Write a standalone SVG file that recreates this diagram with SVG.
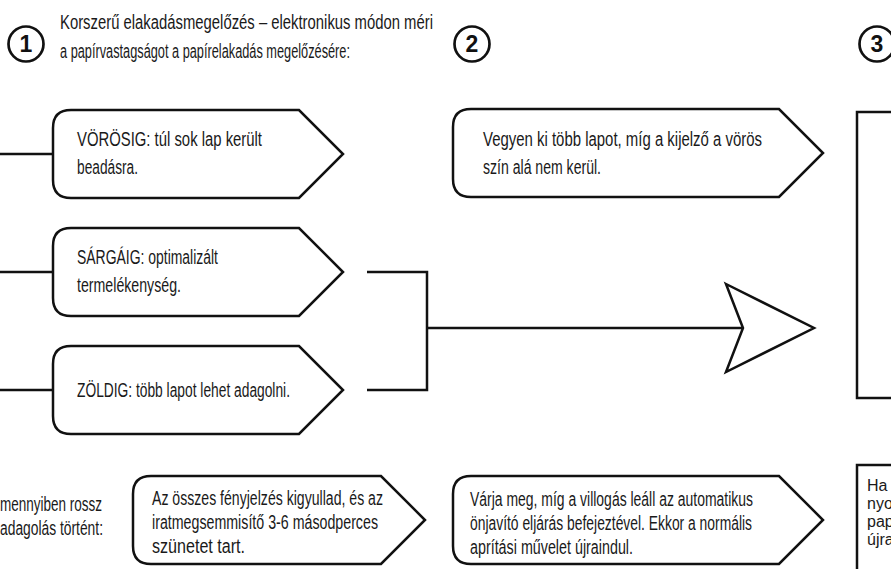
<svg xmlns="http://www.w3.org/2000/svg" width="891" height="569" viewBox="0 0 891 569">
<style>
  .t { font-family: "Liberation Sans", "DejaVu Sans", sans-serif; font-size: 20px; fill: #1a1a1a; }
  .s { font-family: "Liberation Sans", "DejaVu Sans", sans-serif; font-size: 16px; fill: #1a1a1a; }
  .num { font-family: "Liberation Sans", sans-serif; font-size: 23px; font-weight: bold; fill: #111; text-anchor: middle; }
  .node { fill: #fff; stroke: #111; stroke-width: 2.5; stroke-linejoin: miter; }
  .circ { fill: #fff; stroke: #111; stroke-width: 2.7; }
  .line { fill: none; stroke: #111; stroke-width: 2.5; }
</style>
<rect width="891" height="569" fill="#fff"/>

<g id="step1">
  <circle class="circ" cx="26" cy="44" r="17.5"/>
  <text class="num" x="26" y="52">1</text>
  <text class="t" x="60" y="29" textLength="373" lengthAdjust="spacingAndGlyphs">Korszerű elakadásmegelőzés – elektronikus módon méri</text>
  <text class="t" x="60" y="58" textLength="290" lengthAdjust="spacingAndGlyphs">a papírvastagságot a papírelakadás megelőzésére:</text>
</g>
<g id="step2">
  <circle class="circ" cx="472" cy="44" r="17.5"/>
  <text class="num" x="472" y="52">2</text>
</g>
<g id="step3">
  <circle class="circ" cx="877" cy="44" r="17.5"/>
  <text class="num" x="877" y="52">3</text>
</g>

<g id="connectors">
  <line class="line" x1="0" y1="154" x2="53" y2="154"/>
  <line class="line" x1="0" y1="272" x2="53" y2="272"/>
  <line class="line" x1="0" y1="390" x2="53" y2="390"/>
  <polyline class="line" points="367,272 427,272 427,390 367,390"/>
  <line class="line" x1="427" y1="328" x2="743" y2="328"/>
  <polygon class="node" points="726,284 814,328 726,372 743,328"/>
</g>

<g id="red">
  <path class="node" d="M71,110 H299 L343,154 L299,198 H71 Q53,198 53,180 V128 Q53,110 71,110 Z"/>
  <text class="t" x="77" y="146" textLength="185" lengthAdjust="spacingAndGlyphs">VÖRÖSIG: túl sok lap került</text>
  <text class="t" x="77" y="174" textLength="61" lengthAdjust="spacingAndGlyphs">beadásra.</text>
</g>
<g id="yellow">
  <path class="node" d="M71,228 H299 L343,272 L299,316 H71 Q53,316 53,298 V246 Q53,228 71,228 Z"/>
  <text class="t" x="77" y="264" textLength="141" lengthAdjust="spacingAndGlyphs">SÁRGÁIG: optimalizált</text>
  <text class="t" x="77" y="292" textLength="104" lengthAdjust="spacingAndGlyphs">termelékenység.</text>
</g>
<g id="green">
  <path class="node" d="M71,346 H299 L343,390 L299,434 H71 Q53,434 53,416 V364 Q53,346 71,346 Z"/>
  <text class="t" x="77" y="397" textLength="213" lengthAdjust="spacingAndGlyphs">ZÖLDIG: több lapot lehet adagolni.</text>
</g>

<g id="remove">
  <path class="node" d="M471,109 H779 L823,153 L779,197 H471 Q453,197 453,179 V127 Q453,109 471,109 Z"/>
  <text class="t" x="483" y="146" textLength="279" lengthAdjust="spacingAndGlyphs">Vegyen ki több lapot, míg a kijelző a vörös</text>
  <text class="t" x="483" y="174" textLength="118" lengthAdjust="spacingAndGlyphs">szín alá nem kerül.</text>
</g>

<g id="result">
  <rect class="node" x="857" y="112" width="50" height="286"/>
</g>

<g id="misfeed">
  <text class="t" x="0" y="511" textLength="102" lengthAdjust="spacingAndGlyphs">mennyiben rossz</text>
  <text class="t" x="0" y="535" textLength="103" lengthAdjust="spacingAndGlyphs">adagolás történt:</text>
</g>
<g id="lights">
  <path class="node" d="M151,476 H381 L425,520 L381,564 H151 Q133,564 133,546 V494 Q133,476 151,476 Z"/>
  <text class="t" x="152" y="505" textLength="231" lengthAdjust="spacingAndGlyphs">Az összes fényjelzés kigyullad, és az</text>
  <text class="t" x="152" y="529" textLength="226" lengthAdjust="spacingAndGlyphs">iratmegsemmisítő 3-6 másodperces</text>
  <text class="t" x="152" y="553" textLength="93" lengthAdjust="spacingAndGlyphs">szünetet tart.</text>
</g>
<g id="wait">
  <path class="node" d="M471,476 H779 L823,520 L779,564 H471 Q453,564 453,546 V494 Q453,476 471,476 Z"/>
  <text class="t" x="470" y="506" textLength="283" lengthAdjust="spacingAndGlyphs">Várja meg, míg a villogás leáll az automatikus</text>
  <text class="t" x="470" y="530" textLength="282" lengthAdjust="spacingAndGlyphs">önjavító eljárás befejeztével. Ekkor a normális</text>
  <text class="t" x="470" y="554" textLength="163" lengthAdjust="spacingAndGlyphs">aprítási művelet újraindul.</text>
</g>
<g id="restart">
  <rect class="node" x="857" y="465" width="50" height="120"/>
  <text class="s" x="867" y="491">Ha</text>
  <text class="s" x="867" y="509">nyo</text>
  <text class="s" x="867" y="527">pap</text>
  <text class="s" x="867" y="545">újra</text>
</g>
</svg>
